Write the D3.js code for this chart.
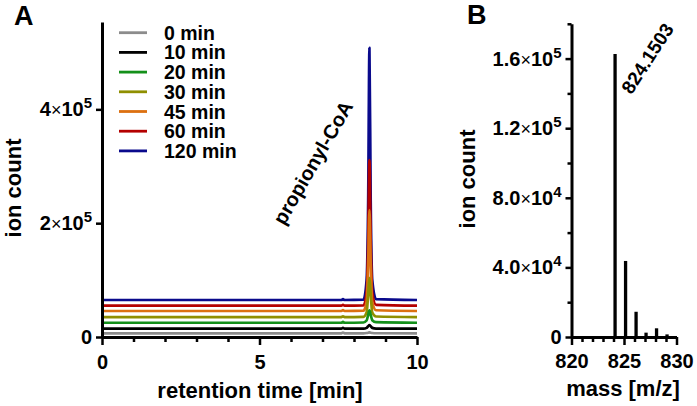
<!DOCTYPE html>
<html>
<head>
<meta charset="utf-8">
<script src="https://cdn.jsdelivr.net/npm/d3@7"></script>
<style>
  body { margin: 0; background: #fff; }
  svg { display: block; }
  svg text { font-family: "Liberation Sans", Arial, sans-serif; font-weight: bold; }
</style>
</head>
<body>
<script>
// ---- panel A: chromatogram traces (retention time in min, ion count) ----
const times = [0, 5.75, 7.6, 7.65, 7.7, 8.30, 8.40, 8.45, 8.49, 8.53, 8.58, 8.70, 10];
const seriesNames = ["0 min", "10 min", "20 min", "30 min", "45 min", "60 min", "120 min"];
const seriesColors = ["#8c8c8c", "#000000", "#14901a", "#8f8f00", "#dc7010", "#b40000", "#0a0a8c"];
const trace0 = [6500, 6500, 6500, 7800, 6500, 6500, 7000, 7500, 8000, 7500, 7000, 6600, 6500];
const trace10 = [14600, 14600, 14600, 16000, 14600, 14600, 16000, 19000, 21000, 19000, 16000, 14800, 14600];
const trace20 = [25000, 25000, 25000, 26500, 25000, 25500, 29000, 39000, 47000, 39000, 29500, 26000, 25000];
const trace30 = [35000, 35000, 35000, 36500, 35000, 35500, 43000, 75000, 104000, 75000, 43000, 36000, 35000];
const trace45 = [45700, 45700, 45700, 47200, 45700, 46200, 62000, 130000, 223000, 130000, 62000, 47000, 45700];
const trace60 = [55000, 55000, 55000, 56500, 55000, 55500, 78000, 170000, 311000, 170000, 78000, 56500, 55000];
const trace120 = [65000, 65000, 65000, 66500, 65000, 65500, 100000, 240000, 508000, 240000, 100000, 66500, 65000];
const traces = [trace0, trace10, trace20, trace30, trace45, trace60, trace120];

const xTicksA = [0, 5, 10];
const xMinorA = [1, 2, 3, 4, 6, 7, 8, 9];
const yTicksA = [0, 2e5, 4e5];
const yTickLabelsA = ["0", "2×10^5", "4×10^5"];

// ---- panel B: mass spectrum ----
const masses = [824.15, 825.15, 826.15, 827.1, 828.1, 829.1];
const intensities = [162600, 43700, 14500, 2500, 5000, 1500];
const xTicksB = [820, 825, 830];
const xMinorB = [821, 822, 823, 824, 826, 827, 828, 829];
const yTicksB = [0, 4e4, 8e4, 1.2e5, 1.6e5];
const yTickLabelsB = ["0", "4.0×10^4", "8.0×10^4", "1.2×10^5", "1.6×10^5"];
const yMinorB = [2e4, 6e4, 1e5, 1.4e5, 1.8e5];

const W = 697, H = 406;
const FONT = '"Liberation Sans", Arial, sans-serif';
const svg = d3.select("body").append("svg").attr("width", W).attr("height", H);

const xA = d3.scaleLinear().domain([0, 10]).range([102, 417]);
const yA = d3.scaleLinear().domain([0, 5.535e5]).range([337, 22]);
const xB = d3.scaleLinear().domain([820, 830]).range([571.5, 676.5]);
const yB = d3.scaleLinear().domain([0, 1.8e5]).range([337, 23.8]);

// writes "a×10^b" as tspans with a raised exponent
function sciLabel(sel, labels, ticks) {
    sel.each(function(d) {
        const txt = labels[ticks.indexOf(d)];
        const t = d3.select(this).text(null);
        const parts = txt.split("^");
        const base = parts[0].split("×");
        t.append("tspan").attr("font-size", 20).text(base[0]);
        if (base.length > 1) {
            t.append("tspan").attr("font-weight", "normal").attr("font-size", 18).text("×");
            t.append("tspan").attr("font-size", 20).text(base[1]);
            t.append("tspan").attr("font-size", 15).attr("dy", -8).text(parts[1]);
        }
    });
}

function styleAxis(g) {
    g.attr("font-size", 20).attr("font-family", FONT).attr("font-weight", "bold");
    g.select(".domain").attr("stroke", "#000").attr("stroke-width", 3);
    g.selectAll(".tick line").attr("stroke", "#000").attr("stroke-width", 2.5);
    g.selectAll(".tick text").attr("fill", "#000");
}

// ---------- panel A ----------
const lineA = d3.line()
    .x((d, i) => xA(times[i]))
    .y(d => yA(d))
    .curve(d3.curveMonotoneX);

// tallest trace first so the later ones sit on top of its peak
for (let k = traces.length - 1; k >= 0; k--) {
    svg.append("path")
        .datum(traces[k])
        .attr("fill", "none")
        .attr("stroke", seriesColors[k])
        .attr("stroke-width", 2.7)
        .attr("stroke-linejoin", "round")
        .attr("d", lineA);
}

const xAxisA = svg.append("g").attr("transform", "translate(0,337)")
    .call(d3.axisBottom(xA).tickValues(xTicksA).tickSize(8).tickPadding(10).tickSizeOuter(0));
styleAxis(xAxisA);
const xMinA = svg.append("g").attr("transform", "translate(0,337)")
    .call(d3.axisBottom(xA).tickValues(xMinorA).tickSize(5).tickFormat(""));
xMinA.select(".domain").remove();
styleAxis(xMinA);

const yAxisA = svg.append("g").attr("transform", "translate(102,0)")
    .call(d3.axisLeft(yA).tickValues(yTicksA).tickSize(6).tickPadding(4).tickSizeOuter(0));
styleAxis(yAxisA);
yAxisA.selectAll(".tick text").call(sciLabel, yTickLabelsA, yTicksA);

// legend
seriesNames.forEach((name, i) => {
    const cy = 32.7 + i * 19.7;
    svg.append("line").attr("x1", 119).attr("x2", 147).attr("y1", cy).attr("y2", cy)
        .attr("stroke", seriesColors[i]).attr("stroke-width", 2.8);
    svg.append("text").attr("x", 164).attr("y", cy + 7)
        .attr("font-size", 19.5).text(name);
});

svg.append("text").attr("x", 319).attr("y", 166)
    .attr("text-anchor", "middle").attr("font-size", 20)
    .attr("transform", "rotate(-60,319,166)")
    .text("propionyl-CoA");

svg.append("text").attr("x", 260).attr("y", 398).attr("text-anchor", "middle")
    .attr("font-size", 22).text("retention time [min]");
svg.append("text").attr("transform", "translate(21,188) rotate(-90)")
    .attr("text-anchor", "middle").attr("font-size", 22).text("ion count");
svg.append("text").attr("x", 14).attr("y", 25).attr("font-size", 27).text("A");

// ---------- panel B ----------
svg.append("g").selectAll("line")
    .data(masses)
    .join("line")
    .attr("x1", d => xB(d)).attr("x2", d => xB(d))
    .attr("y1", yB(0))
    .attr("y2", (d, i) => yB(intensities[i]))
    .attr("stroke", "#000").attr("stroke-width", 3.3);

const xAxisB = svg.append("g").attr("transform", "translate(0,337)")
    .call(d3.axisBottom(xB).tickValues(xTicksB).tickSize(8).tickPadding(9).tickSizeOuter(0));
styleAxis(xAxisB);
const xMinB = svg.append("g").attr("transform", "translate(0,337)")
    .call(d3.axisBottom(xB).tickValues(xMinorB).tickSize(5).tickFormat(""));
xMinB.select(".domain").remove();
styleAxis(xMinB);

const yAxisB = svg.append("g").attr("transform", "translate(571.5,0)")
    .call(d3.axisLeft(yB).tickValues(yTicksB).tickSize(6).tickPadding(4).tickSizeOuter(0));
styleAxis(yAxisB);
yAxisB.selectAll(".tick text").call(sciLabel, yTickLabelsB, yTicksB);
const yMinB = svg.append("g").attr("transform", "translate(571.5,0)")
    .call(d3.axisLeft(yB).tickValues(yMinorB).tickSize(4).tickFormat(""));
yMinB.select(".domain").remove();
styleAxis(yMinB);

svg.append("text").attr("x", 653).attr("y", 62)
    .attr("text-anchor", "middle").attr("font-size", 19)
    .attr("transform", "rotate(-57,653,62)")
    .text("824.1503");

svg.append("text").attr("x", 623).attr("y", 396).attr("text-anchor", "middle")
    .attr("font-size", 22).text("mass [m/z]");
svg.append("text").attr("transform", "translate(475,179) rotate(-90)")
    .attr("text-anchor", "middle").attr("font-size", 22).text("ion count");
svg.append("text").attr("x", 467).attr("y", 24).attr("font-size", 27).text("B");
</script>
</body>
</html>
